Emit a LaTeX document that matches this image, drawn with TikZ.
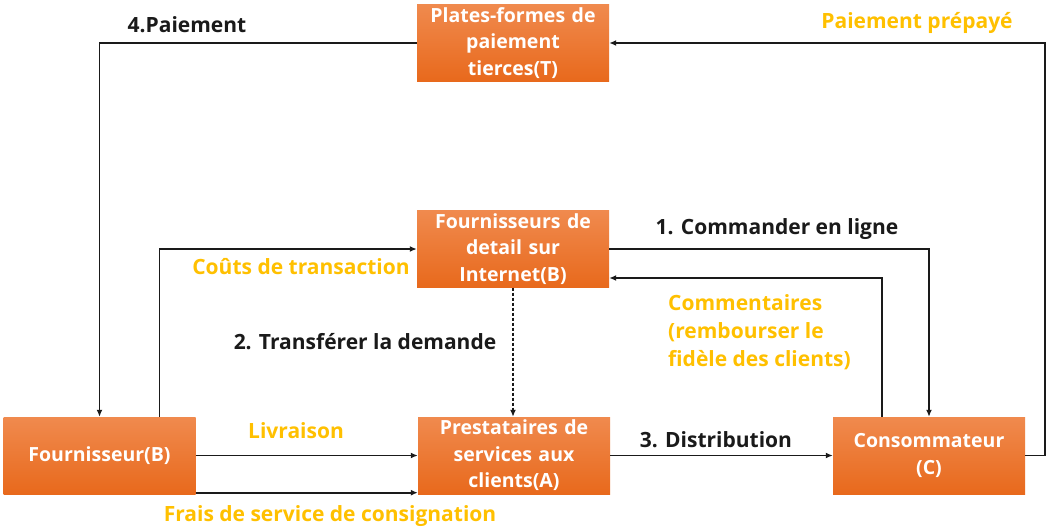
\documentclass[tikz,border=0pt]{standalone}
\usepackage{fontspec}
\setmainfont{Open Sans}
\usetikzlibrary{arrows.meta}
\definecolor{lab}{HTML}{FFC000}
\definecolor{boxtop}{HTML}{F08A4E}
\definecolor{boxbot}{HTML}{E8691C}
\definecolor{ln}{HTML}{1A1A1A}
\tikzset{
  box/.style={minimum width=192pt, minimum height=77pt, text width=192pt, align=center,
    top color=boxtop, bottom color=boxbot, draw=none, text=white,
    font=\bfseries\fontsize{19.5}{26.5}\selectfont, inner sep=0pt},
  conn/.style={draw=ln, line width=1.6pt, -{Latex[length=7pt,width=6pt]}},
  blab/.style={text=ln, font=\bfseries\fontsize{21}{27}\selectfont, inner sep=0pt},
  olab/.style={text=lab, font=\bfseries\fontsize{21}{28}\selectfont, inner sep=0pt}
}
\begin{document}
\begin{tikzpicture}[x=1pt,y=-1pt]
\path[use as bounding box, fill=white] (0,0) rectangle (1050,532);
\node[box] (T) at (513,43) {Plates-formes de\\paiement\\tierces(T)};
\node[box] (I) at (513,249) {Fournisseurs de\\detail sur\\Internet(B)};
\node[box] (P) at (514,455.5) {Prestataires de\\services aux\\clients(A)};
\node[box] (F) at (99.5,455.5) {Fournisseur(B)};
\node[box] (C) at (929,455.5) {Consommateur\\(C)};

\draw[conn] (T.west) -| (F.north);
\draw[conn] (C.east) -- ++(20,0) |- (T.east);
\draw[conn] ([xshift=60pt]F.north) |- (I.west);
\draw[conn] (I.east) -| (C.north);
\draw[conn] ([xshift=-47pt]C.north) |- ([yshift=-29pt]I.east);
\draw[conn, dash pattern=on 3pt off 2pt] (I.south) -- (I.south |- P.north);
\draw[conn] (F.east) -- (P.west);
\draw[conn] ([yshift=1.5pt]F.south east) -- ([yshift=1.5pt]F.south east -| P.west);
\draw[conn] (P.east) -- (C.west);

\node[blab] (l4) at (187,25) {4.Paiement};
\node[olab] (lpp) at (917,23) {Paiement prépayé};
\node[olab] (lct) at (301,267) {Coûts de transaction};
\node[blab] (l1) at (777,229) {1. Commander en ligne};
\node[olab, anchor=west, align=left] (lcom) at (668,332) {Commentaires\\(rembourser le\\fidèle des clients)};
\node[blab] (l2) at (365,342) {2. Transférer la demande};
\node[olab] (lliv) at (296,431) {Livraison};
\node[blab] (l3) at (716,440) {3. Distribution};
\node[olab] (lfr) at (330,516) {Frais de service de consignation};
\end{tikzpicture}
\end{document}
